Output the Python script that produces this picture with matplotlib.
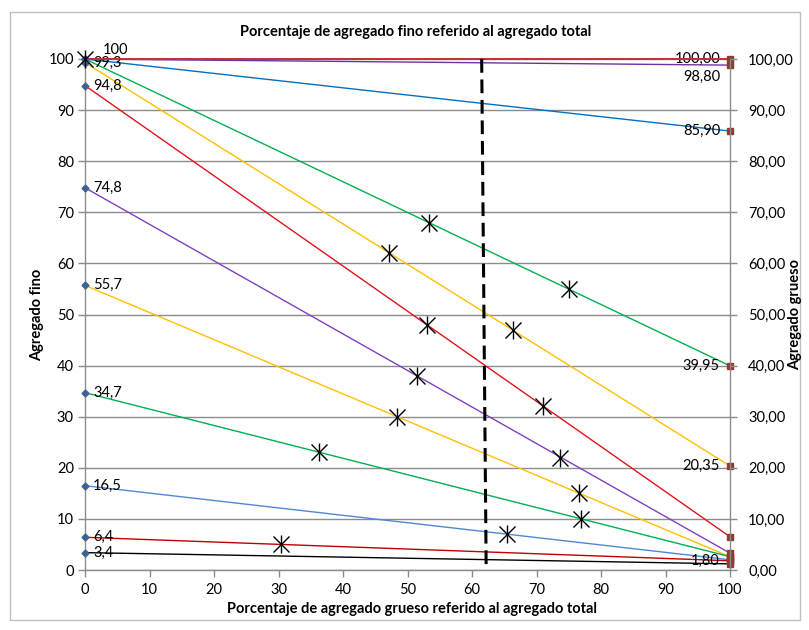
import matplotlib
matplotlib.use("Agg")
import matplotlib.pyplot as plt
from matplotlib.patches import Rectangle

plt.rcParams["font.family"] = ["Lato", "DejaVu Sans"]

# Porcentaje que pasa de cada tamiz: agregado fino (x=0) y agregado grueso (x=100)
fino = [100, 100, 100, 100, 99.3, 94.8, 74.8, 55.7, 34.7, 16.5, 6.4, 3.4]
grueso = [100.00, 98.80, 85.90, 39.95, 20.35, 6.5, 3.3, 2.6, 2.6, 2.0, 1.80, 1.2]
colores = [
    "#C0303A", "#7030A0", "#0070C0", "#00B050", "#FFC000", "#E0141B",
    "#8040C0", "#FFC000", "#00B050", "#4F88D0", "#C00000", "#000000",
]

# Etiquetas mostradas en cada extremo (indices de las series)
etiquetas_fino = [0, 4, 5, 6, 7, 8, 9, 10, 11]
etiquetas_grueso = [0, 1, 2, 3, 4, 10]

# Puntos de interseccion marcados con estrella
estrellas_x = [0, 53.3, 47.2, 53.0, 66.3, 51.4, 48.4, 75.0, 73.7, 76.6, 76.9, 71.0, 36.3, 65.5, 30.4]
estrellas_y = [100, 68, 62, 48, 47, 38, 30, 55, 22, 15, 10, 32, 23, 7, 5]

# Linea vertical de la proporcion elegida (dibujada a mano, algo inclinada)
corte_x = [61.5, 62.2]
corte_y = [100, 0]

W, H = 809, 630
fs = 10.5
fig = plt.figure(figsize=(W / 100, H / 100), dpi=100)
ax = fig.add_axes([85 / W, 1 - 570 / H, 645 / W, 511 / H])
ax2 = ax.twinx()

gris = "#8C8C8C"

# la primera serie (100 -> 100) queda por encima de las demas
for k, (f, g, c) in enumerate(zip(fino, grueso, colores)):
    z = 3.5 if k == 0 else 3
    lw = 1.4 if k == 0 else 1.0
    ax.plot([0, 100], [f, g], color=c, lw=lw, clip_on=False, zorder=z)

ax.plot([0] * len(fino), fino, ls="none", marker="D", ms=3.5,
        color="#3F6294", clip_on=False, zorder=4)
ax.plot([100] * len(grueso), grueso, ls="none", marker="s", ms=5,
        color="#953735", clip_on=False, zorder=4)

for i in etiquetas_fino:
    txt = f"{fino[i]:g}".replace(".", ",")
    if i == 0:
        ax.annotate(txt, (0, fino[i]), xytext=(18, 9), textcoords="offset pixels",
                    ha="left", va="center", fontsize=fs)
    else:
        ax.annotate(txt, (0, fino[i]), xytext=(8, 0), textcoords="offset pixels",
                    ha="left", va="center", fontsize=fs)

for i in etiquetas_grueso:
    txt = f"{grueso[i]:.2f}".replace(".", ",")
    dy = -12 if i == 1 else 0
    ax.annotate(txt, (100, grueso[i]), xytext=(-10, dy), textcoords="offset pixels",
                ha="right", va="center", fontsize=fs)

ax.plot(estrellas_x, estrellas_y, ls="none", marker="x", ms=12, mew=1.0,
        color="black", clip_on=False, zorder=5)
ax.plot(estrellas_x, estrellas_y, ls="none", marker="|", ms=13, mew=1.0,
        color="black", clip_on=False, zorder=5)

ax.plot(corte_x, corte_y, color="black", lw=2.2, ls=(0, (4.5, 2.2)), zorder=6)

ax.set_xlim(0, 100)
ax.set_ylim(0, 100)
ax2.set_ylim(0, 100)
ax.set_xticks(range(0, 101, 10))
ax.set_yticks(range(0, 101, 10))
ax2.set_yticks(range(0, 101, 10))
ax2.set_yticklabels([f"{v:.2f}".replace(".", ",") for v in range(0, 101, 10)])

ax.yaxis.grid(True, color=gris, lw=1)
ax.set_axisbelow(True)
for a in (ax, ax2):
    for s in a.spines.values():
        s.set_visible(False)
    a.tick_params(colors=gris, labelcolor="black", labelsize=fs, length=5, width=1)
ax.spines["left"].set_visible(True)
ax.spines["bottom"].set_visible(True)
ax2.spines["right"].set_visible(True)
for s in (ax.spines["left"], ax.spines["bottom"], ax2.spines["right"]):
    s.set_color(gris)
    s.set_linewidth(1)
ax.tick_params(axis="x", pad=4)
ax.tick_params(axis="y", pad=3)
ax2.tick_params(axis="y", pad=8)

fig.text(416 / W, 1 - 32 / H, "Porcentaje de agregado fino referido al agregado total",
         ha="center", va="center", fontsize=fs, fontweight="bold")
fig.text(412 / W, 1 - 609 / H, "Porcentaje de agregado grueso referido al agregado total",
         ha="center", va="center", fontsize=fs, fontweight="bold")
fig.text(37 / W, 1 - 315 / H, "Agregado fino", rotation=90,
         ha="center", va="center", fontsize=fs, fontweight="bold")
fig.text(795 / W, 1 - 315 / H, "Agregado grueso", rotation=90,
         ha="center", va="center", fontsize=fs, fontweight="bold")

fig.patches.append(Rectangle((9.5 / W, 1 - 620 / H), 790 / W, 608 / H,
                             transform=fig.transFigure, fill=False,
                             edgecolor="#BFBFBF", lw=1))

fig.savefig("out.png", dpi=100)
